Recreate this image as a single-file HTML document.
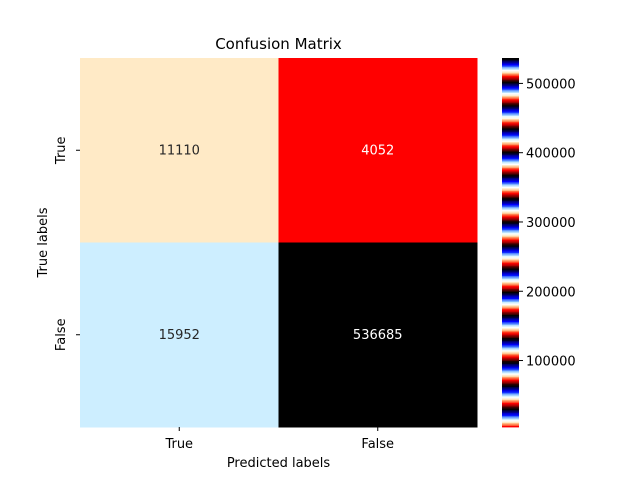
<!DOCTYPE html>
<html><head><meta charset="utf-8"><style>
body{margin:0;background:#fff;}
svg{display:block;font-family:"DejaVu Sans","Liberation Sans",sans-serif;}
</style></head><body>
<svg id="chart" width="640" height="480">
<rect width="640" height="480" fill="#fff"/>
<g id="cells"></g>
<g id="cbar"></g>
<g id="axes"></g>
</svg>
<script>
const rowLabels=["True","False"];
const colLabels=["True","False"];
const values=[[11110,4052],[15952,536685]];
const cbarTicks=[100000,200000,300000,400000,500000];

const NS="http://www.w3.org/2000/svg";
const svg=document.getElementById('chart');
function mk(tag,attrs,parent,text){const e=document.createElementNS(NS,tag);for(const k in attrs)e.setAttribute(k,attrs[k]);if(text!==undefined)e.textContent=text;parent.appendChild(e);return e;}
const flat=values.flat();
const vmin=Math.min(...flat),vmax=Math.max(...flat);
function clip(v){return Math.max(0,Math.min(1,v));}
function flagLut(k){
  const p=(k/255)*31.5;
  return [clip(0.75*Math.sin((p+0.25)*Math.PI)+0.5),clip(Math.sin(p*Math.PI)),clip(0.75*Math.sin((p-0.25)*Math.PI)+0.5)];
}
function flag(x){return flagLut(Math.min(255,Math.max(0,Math.floor(x*256))));}
function rgb(c){return `rgb(${Math.round(c[0]*255)},${Math.round(c[1]*255)},${Math.round(c[2]*255)})`;}
const X0=80,X1=477,Y0=58,Y1=427;
const cw=(X1-X0)/colLabels.length,ch=(Y1-Y0)/rowLabels.length;
const cells=document.getElementById('cells');
const axes=document.getElementById('axes');
values.forEach((row,i)=>row.forEach((v,j)=>{
  const c=flag((v-vmin)/(vmax-vmin));
  const r=mk('rect',{x:X0+j*cw,y:Y0+i*ch,width:cw+0.5,height:ch+0.5,fill:rgb(c)},cells);
  
  
  const lum=0.2126*c[0]+0.7152*c[1]+0.0722*c[2];
  const t=mk('text',{x:X0+(j+0.5)*cw,y:Y0+(i+0.5)*ch+4,'text-anchor':'middle','font-size':13,fill:lum>0.408?'#262626':'#fff'},cells,String(v));
  
  
}));
colLabels.forEach((l,j)=>{const x=X0+(j+0.5)*cw;mk('line',{x1:x,x2:x,y1:Y1,y2:Y1+4,stroke:'#000'},axes);
  const t=mk('text',{x:x,y:Y1+21,'text-anchor':'middle','font-size':13},axes,l);
  });
rowLabels.forEach((l,i)=>{const y=Y0+(i+0.5)*ch;mk('line',{x1:X0-4,x2:X0,y1:y,y2:y,stroke:'#000'},axes);
  const t=mk('text',{x:0,y:0,'text-anchor':'middle','font-size':13,transform:`translate(${X0-15},${y}) rotate(-90)`},axes,l);
  });
let t=mk('text',{x:(X0+X1)/2,y:467,'text-anchor':'middle','font-size':13},axes,'Predicted labels');

t=mk('text',{x:0,y:0,'text-anchor':'middle','font-size':13,transform:`translate(47,${(Y0+Y1)/2}) rotate(-90)`},axes,'True labels');

t=mk('text',{x:(X0+X1)/2,y:49,'text-anchor':'middle','font-size':15},axes,'Confusion Matrix');

const cb=document.getElementById('cbar');
const CX=502,CW=17;
function cy(v){return Y1-(v-vmin)/(vmax-vmin)*(Y1-Y0);}
for(let k=0;k<256;k++){
  const ya=Y1-(k+1)/256*(Y1-Y0),h=(Y1-Y0)/256;
  const r=mk('rect',{x:CX,y:ya,width:CW,height:h+0.4,fill:rgb(flagLut(k))},cb);
  
  
}
cbarTicks.forEach(v=>{const y=cy(v);mk('line',{x1:CX+CW,x2:CX+CW+4,y1:y,y2:y,stroke:'#000'},cb);
  const tt=mk('text',{x:CX+CW+7,y:y+5,'font-size':13},cb,String(v));
  });
</script>
</body></html>
